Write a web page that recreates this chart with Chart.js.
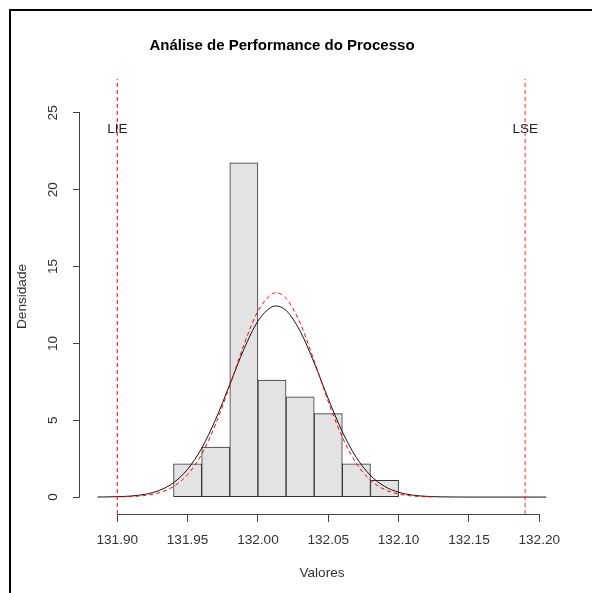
<!DOCTYPE html>
<html>
<head>
<meta charset="utf-8">
<title>Análise de Performance do Processo</title>
<script src="https://cdn.jsdelivr.net/npm/chart.js@4.4.1/dist/chart.umd.min.js"></script>
<style>
  html, body { margin: 0; padding: 0; background: #fff; }
  #wrap { position: relative; width: 592px; height: 593px; overflow: hidden; }
  #chart { display: block; }
  #frame { position: absolute; left: 9px; top: 9px; width: 640px; height: 640px; border: 2px solid #000; pointer-events: none; }
</style>
</head>
<body>
<div id="wrap">
  <canvas id="chart" width="592" height="593"></canvas>
  <div id="frame"></div>
</div>
<script>
// histogram (bin width 0.02)
const binMids = [131.95, 131.97, 131.99, 132.01, 132.03, 132.05, 132.07, 132.09];
const densities = [2.17, 3.26, 21.74, 7.61, 6.52, 5.43, 2.17, 1.09];

// solid black normal curve
const normX = [131.886, 131.89, 131.90, 131.91, 131.92, 131.93, 131.94, 131.95, 131.96, 131.97, 131.98, 131.99,
  132.00, 132.01, 132.013, 132.02, 132.03, 132.04, 132.05, 132.06, 132.07, 132.08, 132.09, 132.10, 132.11,
  132.12, 132.13, 132.14, 132.15, 132.16, 132.17, 132.18, 132.19, 132.20, 132.205];
const normY = [0.005, 0.008, 0.025, 0.072, 0.187, 0.439, 0.936, 1.811, 3.181, 5.068, 7.329, 9.616,
  11.45, 12.38, 12.43, 12.14, 10.80, 8.727, 6.398, 4.256, 2.570, 1.408, 0.700, 0.316, 0.129,
  0.048, 0.016, 0.005, 0.001, 0, 0, 0, 0, 0, 0];

// red dashed curve
const redX = [131.903, 131.91, 131.92, 131.93, 131.94, 131.95, 131.96, 131.97, 131.98, 131.99, 132.00,
  132.01, 132.013, 132.02, 132.03, 132.04, 132.05, 132.06, 132.07, 132.08, 132.09, 132.10, 132.11, 132.12, 132.124];
const redY = [0.016, 0.037, 0.109, 0.289, 0.688, 1.466, 2.790, 4.758, 7.258, 9.906, 12.10,
  13.22, 13.29, 12.93, 11.32, 8.864, 6.212, 3.895, 2.186, 1.098, 0.493, 0.198, 0.071, 0.023, 0.014];

// spec limits
const specNames = ['LIE', 'LSE'];
const specValues = [131.90, 132.19];
const specLabelY = 23.9;

// axes
const xTicks = [131.90, 131.95, 132.00, 132.05, 132.10, 132.15, 132.20];
const yTicks = [0, 5, 10, 15, 20, 25];
const xMin = 131.8735, xMax = 132.2176;
const yMin = -1.1, yMax = 27.2;

const FONT = '"Liberation Sans", Arial, sans-serif';
Chart.defaults.font.family = FONT;
Chart.defaults.color = '#333';

const pts = (xs, ys) => xs.map((x, i) => ({x: x, y: ys[i]}));

const rStyle = {
  id: 'rStyle',
  afterDraw(chart) {
    const {ctx, scales: {x, y}, chartArea} = chart;
    ctx.save();
    ctx.strokeStyle = '#444';
    ctx.lineWidth = 1;
    ctx.beginPath();
    const by = Math.round(chartArea.bottom) + 0.5;
    ctx.moveTo(x.getPixelForValue(xTicks[0]), by);
    ctx.lineTo(x.getPixelForValue(xTicks[xTicks.length - 1]), by);
    const lx = Math.round(chartArea.left) - 0.5;
    ctx.moveTo(lx, y.getPixelForValue(yTicks[0]));
    ctx.lineTo(lx, y.getPixelForValue(yTicks[yTicks.length - 1]));
    ctx.stroke();
    ctx.fillStyle = '#222';
    ctx.font = '13.5px ' + FONT;
    ctx.textAlign = 'center';
    ctx.textBaseline = 'middle';
    specNames.forEach((n, i) => {
      ctx.fillText(n, x.getPixelForValue(specValues[i]), y.getPixelForValue(specLabelY));
    });
    ctx.restore();
  }
};

new Chart(document.getElementById('chart'), {
  type: 'bar',
  data: {
    datasets: [
      {
        type: 'line', label: 'LIE', order: 0,
        data: [{x: specValues[0], y: yMin}, {x: specValues[0], y: yMax}],
        borderColor: '#ff0000', borderWidth: 1, borderDash: [4, 3], pointRadius: 0
      },
      {
        type: 'line', label: 'LSE', order: 0,
        data: [{x: specValues[1], y: yMin}, {x: specValues[1], y: yMax}],
        borderColor: 'rgba(255,40,40,0.6)', borderWidth: 1.6, borderDash: [4, 3], pointRadius: 0
      },
      {
        type: 'line', label: 'ajuste', order: 1,
        data: pts(redX, redY),
        borderColor: '#ff0000', borderWidth: 1, borderDash: [4, 3], pointRadius: 0,
        cubicInterpolationMode: 'monotone'
      },
      {
        type: 'line', label: 'normal', order: 1,
        data: pts(normX, normY),
        borderColor: '#111', borderWidth: 1, pointRadius: 0,
        cubicInterpolationMode: 'monotone'
      },
      {
        type: 'bar', label: 'Densidade', order: 5,
        data: pts(binMids, densities),
        backgroundColor: '#e3e3e3', borderColor: '#333', borderWidth: 1,
        borderSkipped: false, barPercentage: 1, categoryPercentage: 1
      }
    ]
  },
  options: {
    responsive: false,
    animation: false,
    events: [],
    layout: {padding: {left: 0, right: 28, top: 0, bottom: 0}},
    plugins: {
      legend: {display: false},
      tooltip: {enabled: false},
      title: {
        display: true,
        text: 'Análise de Performance do Processo',
        color: '#000',
        font: {size: 15, weight: 'bold'},
        padding: {top: 37, bottom: 24}
      }
    },
    scales: {
      x: {
        type: 'linear', min: xMin, max: xMax, offset: false,
        afterBuildTicks: s => { s.ticks = xTicks.map(v => ({value: v})); },
        afterFit: s => { s.height = 79; },
        grid: {display: true, drawOnChartArea: false, drawTicks: true, tickLength: 8, color: '#444', offset: false},
        border: {display: false},
        ticks: {
          autoSkip: false, maxRotation: 0, minRotation: 0, padding: 10,
          font: {size: 13.6}, color: '#333',
          callback: v => Number(v).toFixed(2)
        },
        title: {display: true, text: 'Valores', color: '#333', font: {size: 13.6}, padding: {top: 0, bottom: 12}}
      },
      y: {
        type: 'linear', min: yMin, max: yMax,
        afterBuildTicks: s => { s.ticks = yTicks.map(v => ({value: v})); },
        afterFit: s => { s.width = 80; },
        grid: {display: true, drawOnChartArea: false, drawTicks: true, tickLength: 7, color: '#444'},
        border: {display: false},
        ticks: {
          minRotation: 90, maxRotation: 90, crossAlign: 'center', padding: 12,
          font: {size: 13.6}, color: '#333'
        },
        title: {display: true, text: 'Densidade', color: '#333', font: {size: 13.6}, padding: {top: 14, bottom: 0}}
      }
    }
  },
  plugins: [rStyle]
});
</script>
</body>
</html>
